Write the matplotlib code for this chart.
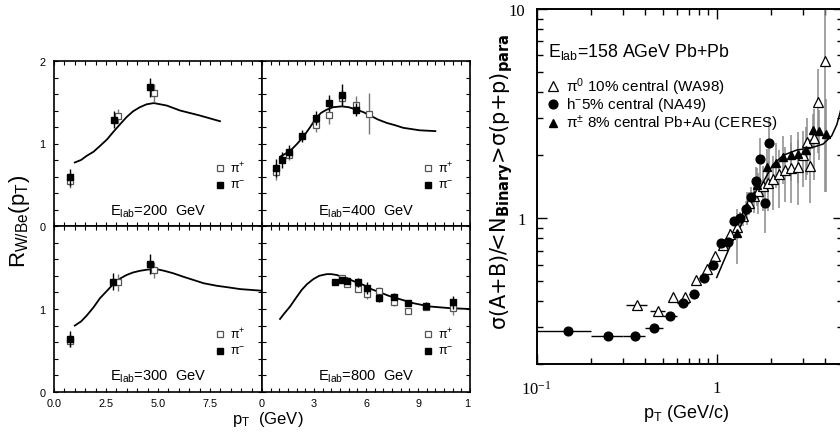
import matplotlib
matplotlib.use("Agg")
import matplotlib.pyplot as plt
from matplotlib import font_manager
from matplotlib.patches import Rectangle
from matplotlib.ticker import MultipleLocator, FixedLocator, NullFormatter

plt.rcParams['font.family'] = ['Liberation Sans', 'DejaVu Sans']
plt.rcParams['mathtext.default'] = 'regular'

_installed = {f.name for f in font_manager.fontManager.ttflist}
NARROW = 'Liberation Sans Narrow' if 'Liberation Sans Narrow' in _installed else 'Liberation Sans'
NSCALE = 1.0 if NARROW == 'Liberation Sans Narrow' else 0.9

# ---------------- W/Be ratio, four beam energies ----------------
pt_200_neg = [0.77, 2.9, 4.6]
r_200_neg = [0.59, 1.29, 1.68]
err_200_neg = [0.10, 0.10, 0.12]
pt_200_pos = [0.77, 3.1, 4.8]
r_200_pos = [0.55, 1.33, 1.61]
err_200_pos = [0.09, 0.09, 0.11]
curve_200_pt = [1.0, 1.3, 1.57, 1.9, 2.21, 2.55, 2.85, 3.2, 3.49, 3.8, 4.13, 4.45, 4.8, 5.42, 6.06, 7.0, 7.98]
curve_200_r = [0.77, 0.80, 0.85, 0.90, 0.97, 1.05, 1.14, 1.24, 1.32, 1.39, 1.44, 1.475, 1.49, 1.46, 1.40, 1.34, 1.27]

pt_400_neg = [0.79, 1.17, 1.56, 2.33, 3.1, 3.87, 4.64, 5.4]
r_400_neg = [0.70, 0.80, 0.90, 1.09, 1.31, 1.49, 1.59, 1.41]
err_400_neg = [0.11, 0.10, 0.08, 0.07, 0.08, 0.10, 0.13, 0.08]
pt_400_pos = [0.79, 1.56, 3.1, 3.87, 4.64, 5.4, 6.17]
r_400_pos = [0.66, 0.86, 1.22, 1.34, 1.55, 1.47, 1.36]
err_400_pos = [0.10, 0.06, 0.08, 0.10, 0.10, 0.10, 0.25]
curve_400_pt = [1.04, 1.3, 1.62, 2.0, 2.38, 2.75, 3.1, 3.4, 3.73, 4.1, 4.6, 5.0, 5.46, 5.85, 6.23, 6.7, 7.19, 7.7, 8.15, 9.1, 10.0]
curve_400_r = [0.84, 0.87, 0.91, 0.99, 1.08, 1.19, 1.30, 1.37, 1.41, 1.44, 1.45, 1.44, 1.41, 1.38, 1.34, 1.29, 1.25, 1.22, 1.19, 1.16, 1.15]

pt_300_neg = [0.77, 2.85, 4.6]
r_300_neg = [0.64, 1.33, 1.54]
err_300_neg = [0.10, 0.10, 0.12]
pt_300_pos = [0.77, 3.09, 4.8]
r_300_pos = [0.62, 1.32, 1.47]
err_300_pos = [0.08, 0.10, 0.10]
curve_300_pt = [1.0, 1.3, 1.57, 1.9, 2.21, 2.55, 2.85, 3.2, 3.49, 3.8, 4.13, 4.5, 4.94, 5.3, 5.74, 6.2, 6.7, 7.2, 7.82, 8.4, 8.94, 10.0]
curve_300_r = [0.80, 0.85, 0.92, 1.02, 1.13, 1.22, 1.30, 1.37, 1.41, 1.44, 1.46, 1.475, 1.48, 1.46, 1.43, 1.39, 1.35, 1.31, 1.28, 1.26, 1.24, 1.22]

pt_800_neg = [4.21, 4.64, 4.92, 5.52, 6.04, 6.75, 7.63, 8.44, 9.44, 11.04]
r_800_neg = [1.33, 1.35, 1.34, 1.32, 1.25, 1.13, 1.15, 1.07, 1.04, 1.08]
err_800_neg = [0.03, 0.04, 0.04, 0.05, 0.07, 0.05, 0.04, 0.03, 0.04, 0.08]
pt_800_pos = [4.64, 4.92, 5.52, 6.04, 6.75, 7.63, 8.44, 9.44, 11.04]
r_800_pos = [1.37, 1.30, 1.24, 1.18, 1.22, 1.08, 0.98, 1.03, 1.01]
err_800_pos = [0.03, 0.03, 0.04, 0.06, 0.05, 0.04, 0.03, 0.04, 0.08]
curve_800_pt = [1.04, 1.3, 1.62, 1.95, 2.29, 2.6, 2.96, 3.3, 3.73, 4.0, 4.31, 4.89, 5.35, 5.85, 6.3, 6.81, 7.3, 7.77, 8.73, 9.69, 10.85, 12.0]
curve_800_r = [0.88, 0.95, 1.03, 1.13, 1.23, 1.30, 1.36, 1.40, 1.42, 1.42, 1.41, 1.37, 1.33, 1.29, 1.24, 1.20, 1.16, 1.13, 1.07, 1.03, 1.01, 1.00]

energies = ['200', '400', '300', '800']

# ---------------- Pb+Pb nuclear modification ----------------
wa98_pt = [0.36, 0.47, 0.57, 0.67, 0.77, 0.88, 0.98, 1.09, 1.19, 1.30, 1.40, 1.51, 1.61, 1.70, 1.81, 1.93,
           2.06, 2.22, 2.40, 2.60, 2.84, 3.03, 3.16, 3.30, 3.46, 3.65, 4.00]
wa98_r = [0.386, 0.361, 0.419, 0.419, 0.505, 0.569, 0.659, 0.74, 0.84, 0.91, 1.02, 1.18, 1.28, 1.35, 1.43, 1.48,
          1.54, 1.62, 1.69, 1.73, 1.76, 2.01, 2.30, 1.78, 2.42, 3.60, 5.64]
wa98_err = [0.008, 0.008, 0.01, 0.01, 0.012, 0.015, 0.02, 0.04, 0.05, 0.07, 0.10, 0.15, 0.22, 0.30, 0.35, 0.40,
            0.45, 0.50, 0.50, 0.55, 0.60, 0.60, 0.70, 0.60, 0.90, 1.55, 4.30]
wa98_binhalf = [0.048, 0.045, 0.0, 0.0, 0.0, 0.0, 0.0, 0.0, 0.0, 0.0, 0.0, 0.0, 0.0, 0.0, 0.0, 0.0,
                0.0, 0.0, 0.0, 0.0, 0.0, 0.0, 0.0, 0.0, 0.0, 0.0, 0.0]

na49_pt = [0.15, 0.25, 0.35, 0.45, 0.55, 0.65, 0.75, 0.85, 0.95, 1.05, 1.15, 1.25, 1.35, 1.45, 1.55, 1.65, 1.75, 1.85, 1.95]
na49_r = [0.290, 0.274, 0.274, 0.297, 0.339, 0.393, 0.436, 0.516, 0.594, 0.758, 0.773, 0.964, 1.00, 1.11, 1.26, 1.50, 1.91, 1.18, 2.29]
na49_err = [0.005, 0.005, 0.005, 0.005, 0.006, 0.008, 0.01, 0.012, 0.015, 0.03, 0.04, 0.05, 0.07, 0.10, 0.15, 0.25, 0.50, 0.33, 0.75]
na49_binhalf = [0.05] * 9 + [0.0] * 10

ceres_pt = [1.30, 1.47, 1.67, 1.91, 2.13, 2.34, 2.58, 2.84, 3.13, 3.41, 3.69, 4.03]
ceres_r = [0.853, 1.13, 1.44, 1.75, 1.84, 1.96, 2.01, 2.02, 2.12, 2.63, 2.60, 2.53]
ceres_err = [0.25, 0.20, 0.30, 0.40, 0.45, 0.50, 0.50, 0.55, 0.60, 0.50, 0.70, 1.20]

theory_pt = [1.0, 1.1, 1.2, 1.32, 1.45, 1.6, 1.8, 2.05, 2.35, 2.8, 3.3, 3.9, 4.35, 4.65, 4.85, 5.0]
theory_r = [0.52, 0.63, 0.75, 0.87, 1.03, 1.24, 1.47, 1.80, 2.00, 2.12, 2.16, 2.26, 2.47, 2.80, 3.20, 3.6]

W, H = 840, 435
fig = plt.figure(figsize=(W / 100, H / 100), dpi=100)


def box(x0, y0, x1, y1):
    return [x0 / W, 1 - y1 / H, (x1 - x0) / W, (y1 - y0) / H]


ax200 = fig.add_axes(box(54, 62, 262, 227))
ax400 = fig.add_axes(box(262, 62, 470, 227))
ax300 = fig.add_axes(box(54, 227, 262, 393))
ax800 = fig.add_axes(box(262, 227, 470, 393))

cells = {
    '200': (ax200, pt_200_neg, r_200_neg, err_200_neg, pt_200_pos, r_200_pos, err_200_pos, curve_200_pt, curve_200_r),
    '400': (ax400, pt_400_neg, r_400_neg, err_400_neg, pt_400_pos, r_400_pos, err_400_pos, curve_400_pt, curve_400_r),
    '300': (ax300, pt_300_neg, r_300_neg, err_300_neg, pt_300_pos, r_300_pos, err_300_pos, curve_300_pt, curve_300_r),
    '800': (ax800, pt_800_neg, r_800_neg, err_800_neg, pt_800_pos, r_800_pos, err_800_pos, curve_800_pt, curve_800_r),
}

for key in energies:
    ax, pn, rn, en, pp, rp, ep, cpt, cr = cells[key]
    left_col = key in ('200', '300')
    top_row = key in ('200', '400')
    xmax = 10 if left_col else 12
    ax.set_xlim(0, xmax)
    ax.set_ylim(0, 2)
    ax.yaxis.set_major_locator(FixedLocator([0, 1, 2]))
    ax.yaxis.set_minor_locator(MultipleLocator(0.2))
    ax.xaxis.set_minor_locator(MultipleLocator(0.5))
    if left_col:
        ax.set_xticks([0, 2.5, 5, 7.5, 10])
        xl = ['0.0', '2.5', '5.0', '7.5', '']
    else:
        ax.set_xticks([0, 3, 6, 9, 12])
        xl = ['0', '3', '6', '9', '12']
    ax.set_xticklabels(xl if not top_row else [''] * 5)
    ax.set_yticks([0, 1, 2])
    if left_col:
        ax.set_yticklabels(['0', '1', '2'] if top_row else ['0', '1', ''])
    else:
        ax.set_yticklabels(['', '', ''])
    ax.tick_params(which='both', direction='in', top=True, right=True, length=3.2, width=0.8,
                   labelsize=7.8, pad=4)
    ax.tick_params(axis='y', pad=6)
    for sp in ax.spines.values():
        sp.set_linewidth(1.2)

    ax.plot(cpt, cr, color='black', lw=1.3, zorder=2)
    ax.errorbar(pp, rp, yerr=ep, fmt='s', ms=4.0, mfc='white', mec='#555555', mew=0.9,
                ecolor='#777777', elinewidth=1.0, capsize=0, zorder=3)
    ax.errorbar(pn, rn, yerr=en, fmt='s', ms=4.6, mfc='black', mec='black',
                ecolor='black', elinewidth=1.0, capsize=0, zorder=4)

    ax.plot([0.80], [0.35], transform=ax.transAxes, marker='s', ms=3.8, mfc='white', mec='#555555',
            mew=0.9, ls='none')
    ax.plot([0.80], [0.25], transform=ax.transAxes, marker='s', ms=4.2, mfc='black', mec='black', ls='none')
    ax.text(0.845, 0.35, r'$\pi^{+}$', transform=ax.transAxes, fontsize=9, va='center', ha='left')
    ax.text(0.845, 0.25, r'$\pi^{-}$', transform=ax.transAxes, fontsize=9, va='center', ha='left')
    ax.text(0.5, 0.095, 'E$_{lab}$=' + key + '  GeV', transform=ax.transAxes, fontsize=10.5,
            ha='center', va='center')

fig.text(20 / W, 1 - 221 / H, 'R$_{W/Be}$(p$_T$)', rotation=90, fontsize=16, ha='center', va='center')
fig.text(268 / W, 1 - 420 / H, 'p$_T$  (GeV)', fontsize=12, ha='center', va='center')

# the right-hand figure sits on its own white sheet
fig.add_artist(Rectangle((471 / W, 0), 1 - 471 / W, 1, transform=fig.transFigure,
                         facecolor='white', edgecolor='none', zorder=1))

axr = fig.add_axes(box(536.7, 10, 842.5, 365.3), zorder=2)
axr.set_xscale('log')
axr.set_yscale('log')
axr.set_xlim(0.1, 5.0)
axr.set_ylim(0.2, 10)
axr.xaxis.set_major_locator(FixedLocator([0.1, 1]))
axr.xaxis.set_minor_locator(FixedLocator([0.2, 0.3, 0.4, 0.5, 0.6, 0.7, 0.8, 0.9, 2, 3, 4]))
axr.yaxis.set_major_locator(FixedLocator([1, 10]))
axr.yaxis.set_minor_locator(FixedLocator([0.2, 0.3, 0.4, 0.5, 0.6, 0.7, 0.8, 0.9, 2, 3, 4, 5, 6, 7, 8, 9]))
axr.xaxis.set_minor_formatter(NullFormatter())
axr.yaxis.set_minor_formatter(NullFormatter())
axr.set_xticklabels(['10$^{-1}$', '1'], family='Liberation Serif', fontsize=12)
axr.set_yticklabels(['1', '10'], family='Liberation Serif', fontsize=12)
axr.tick_params(which='both', direction='in', top=True, right=True, width=1.0)
axr.tick_params(which='major', length=7)
axr.tick_params(which='minor', length=4.5)
axr.tick_params(axis='x', pad=11)
axr.tick_params(axis='y', pad=8)
for sp in axr.spines.values():
    sp.set_linewidth(1.4)

grey = '#8a8a8a'
axr.errorbar(wa98_pt, wa98_r, yerr=wa98_err, fmt='none', ecolor=grey, elinewidth=1.1, zorder=2)
axr.errorbar(ceres_pt, ceres_r, yerr=ceres_err, fmt='none', ecolor=grey, elinewidth=1.1, zorder=2)
axr.errorbar(na49_pt, na49_r, yerr=na49_err, fmt='none', ecolor=grey, elinewidth=1.1, zorder=2)
axr.errorbar(wa98_pt, wa98_r, xerr=wa98_binhalf, fmt='none', ecolor='black', elinewidth=1.0, zorder=3)
axr.errorbar(na49_pt, na49_r, xerr=na49_binhalf, fmt='none', ecolor='black', elinewidth=1.0, zorder=3)
axr.plot(theory_pt, theory_r, color='black', lw=1.1, zorder=4)
axr.plot(wa98_pt, wa98_r, ls='none', marker='^', ms=6.5, mfc='white', mec='black', mew=0.9, zorder=5)
axr.plot(na49_pt, na49_r, ls='none', marker='o', ms=6.3, mfc='black', mec='black', zorder=5)
axr.plot(ceres_pt, ceres_r, ls='none', marker='^', ms=5.5, mfc='black', mec='black', zorder=6)

axr.text(0.037, 0.883, 'E$_{lab}$=158 AGeV Pb+Pb', transform=axr.transAxes, family=NARROW,
         fontsize=14.2 * NSCALE, va='center', ha='left')
rows = [
    (0.783, dict(marker='^', ms=6.5, mfc='white', mec='black', mew=0.9), 'π$^{0}$ 10% central (WA98)'),
    (0.732, dict(marker='o', ms=6.3, mfc='black', mec='black'), 'h$^{-}$5% central (NA49)'),
    (0.679, dict(marker='^', ms=5.5, mfc='black', mec='black'), 'π$^{\\pm}$ 8% central Pb+Au (CERES)'),
]
for yy, mk, label in rows:
    axr.plot([0.053], [yy], transform=axr.transAxes, ls='none', **mk)
    axr.text(0.095, yy, label, transform=axr.transAxes, family=NARROW, fontsize=12.2 * NSCALE,
             va='center', ha='left')

fig.text(502 / W, 1 - 182 / H, 'σ(A+B)/<N$_{\\mathbf{Binary}}$>σ(p+p)$_{\\mathbf{para}}$',
         rotation=90, fontsize=15, family='DejaVu Sans', ha='center', va='center', zorder=3)
fig.text(686 / W, 1 - 414 / H, 'p$_T$ (GeV/c)', fontsize=13, ha='center', va='center', zorder=3)

fig.savefig('out.png', dpi=100)
